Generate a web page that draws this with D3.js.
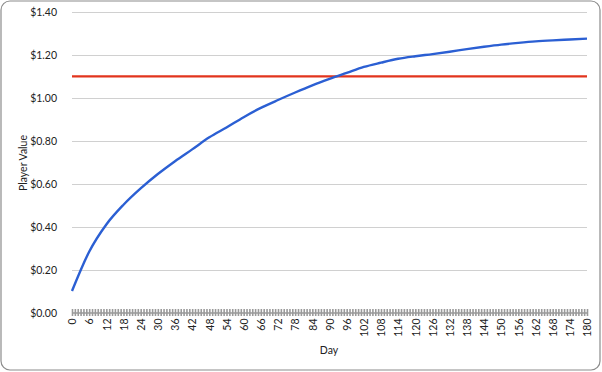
<!DOCTYPE html>
<html>
<head>
<meta charset="utf-8">
<script src="https://cdn.jsdelivr.net/npm/d3@7"></script>
<style>
  body { margin: 0; background: #fff; }
  text { font-family: Lato, "Open Sans", sans-serif; fill: #222; }
</style>
</head>
<body>
<script>
// values, one every 6 days
var days = [0, 6, 12, 18, 24, 30, 36, 42, 48, 54, 60, 66, 72, 78, 84, 90, 96, 102, 108, 114, 120, 126, 132, 138, 144, 150, 156, 162, 168, 174, 180];
var playerValue = [0.10, 0.283, 0.41, 0.502, 0.578, 0.645, 0.705, 0.76, 0.816, 0.862, 0.91, 0.953, 0.99, 1.025, 1.058, 1.088, 1.116, 1.144, 1.164, 1.182, 1.194, 1.204, 1.215, 1.227, 1.238, 1.248, 1.256, 1.263, 1.268, 1.272, 1.276];
var targetValue = 1.10;
var yTicks = [0, 0.2, 0.4, 0.6, 0.8, 1.0, 1.2, 1.4];

var width = 602, height = 372;
var svg = d3.select('body').append('svg').attr('width', width).attr('height', height);

svg.append('rect')
  .attr('x', 1).attr('y', 1).attr('width', width - 3).attr('height', height - 3)
  .attr('rx', 9).attr('fill', '#fff').attr('stroke', '#8c8c8c').attr('stroke-width', 1.2);

var x = d3.scaleLinear().domain([0, 180]).range([72, 587]);
var y = d3.scaleLinear().domain([0, 1.4]).range([312.5, 12]);

var fmt = function (d) { return '$' + d3.format('.2f')(d); };

// gridlines
svg.append('g').selectAll('line').data(yTicks.slice(1)).enter().append('line')
  .attr('x1', x(0)).attr('x2', x(180))
  .attr('y1', function (d) { return Math.round(y(d)) + 0.5; })
  .attr('y2', function (d) { return Math.round(y(d)) + 0.5; })
  .attr('stroke', '#d0d0d0').attr('stroke-width', 1);

// y axis labels
var yAxis = svg.append('g').attr('transform', 'translate(' + (x(0) - 12) + ',0)')
  .call(d3.axisLeft(y).tickValues(yTicks).tickFormat(fmt).tickSize(0));
yAxis.select('.domain').remove();
yAxis.selectAll('text').attr('font-size', 10.5).attr('dy', '0.35em').style('font-family', 'Lato, sans-serif').attr('fill', '#222');

// x axis: a tick every day, labels every 6
var allDays = d3.range(0, 181);
var xAxis = svg.append('g').attr('transform', 'translate(0,' + y(0) + ')')
  .call(d3.axisBottom(x).tickValues(allDays).tickSize(0).tickFormat(function (d) { return d % 6 === 0 ? d : ''; }));
xAxis.select('.domain').attr('stroke', '#999').attr('stroke-width', 1.5);
xAxis.selectAll('.tick line').attr('y1', -3.5).attr('y2', 3.5).attr('stroke', '#9a9a9a').attr('stroke-width', 1.6);
xAxis.selectAll('.tick text')
  .attr('font-size', 10.5).style('font-family', 'Lato, sans-serif').attr('fill', '#222')
  .attr('transform', 'rotate(-90)')
  .attr('text-anchor', 'end')
  .attr('x', -6).attr('y', 0).attr('dy', '0.35em');

// threshold line
svg.append('line')
  .attr('x1', x(0)).attr('x2', x(180))
  .attr('y1', y(targetValue)).attr('y2', y(targetValue))
  .attr('stroke', '#e2341d').attr('stroke-width', 2.4);

// player value line
var line = d3.line()
  .x(function (d, i) { return x(days[i]); })
  .y(function (d) { return y(d); })
  .curve(d3.curveMonotoneX);
svg.append('path').datum(playerValue)
  .attr('d', line).attr('fill', 'none')
  .attr('stroke', '#2b5fd3').attr('stroke-width', 2.4).attr('stroke-linejoin', 'round');

// axis titles
svg.append('text').attr('x', 329).attr('y', 354).attr('text-anchor', 'middle').attr('font-size', 10.5).text('Day');
svg.append('text').attr('transform', 'translate(27,163) rotate(-90)').attr('text-anchor', 'middle').attr('font-size', 10.5).text('Player Value');
</script>
</body>
</html>
